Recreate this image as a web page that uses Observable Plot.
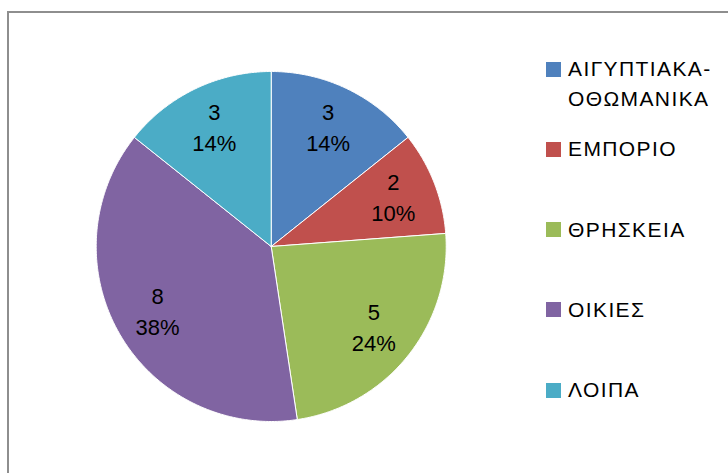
<!DOCTYPE html>
<html>
<head>
<meta charset="utf-8">
<script src="https://cdn.jsdelivr.net/npm/d3@7"></script>
<script src="https://cdn.jsdelivr.net/npm/@observablehq/plot@0.6"></script>
<style>
  html, body { margin: 0; padding: 0; background: #fff; }
  #wrap { position: relative; width: 728px; height: 473px; overflow: hidden; font-family: "Liberation Sans", Arial, sans-serif; }
  #frame { position: absolute; left: 7px; top: 11px; width: 800px; height: 600px; border-left: 2px solid #8e8e8e; border-top: 2px solid #8e8e8e; box-sizing: border-box; pointer-events: none; }
  #chart { position: absolute; left: 0; top: 0; }
  .leg { position: absolute; left: 546px; }
  .leg .sw { position: absolute; left: 0; top: 0; width: 15px; height: 15px; }
  .leg .tx { position: absolute; left: 22px; top: -7.5px; width: 175px; font-size: 21px; line-height: 30px; color: #000; letter-spacing: 1.4px; }
</style>
</head>
<body>
<div id="wrap">
  <div id="frame"></div>
  <div id="chart"></div>
</div>
<script>
const categories = ["ΑΙΓΥΠΤΙΑΚΑ-ΟΘΩΜΑΝΙΚΑ", "ΕΜΠΟΡΙΟ", "ΘΡΗΣΚΕΙΑ", "ΟΙΚΙΕΣ", "ΛΟΙΠΑ"];
const values = [3, 2, 5, 8, 3];
const colors = ["#4F81BD", "#C0504D", "#9BBB59", "#8064A2", "#4BACC6"];

const W = 728, H = 473;
const cx = 270.7, cy = 246, R = 175;

const total = d3.sum(values);
const arcs = d3.pie().sort(null)(values);

const polys = arcs.flatMap((p, i) => {
  const pts = [{k: categories[i], x: 0, y: 0}];
  const span = p.endAngle - p.startAngle;
  const n = Math.max(2, Math.ceil(span / (Math.PI / 360)));
  for (let j = 0; j <= n; j++) {
    const a = p.startAngle + span * j / n;
    pts.push({k: categories[i], x: Math.sin(a), y: Math.cos(a)});
  }
  pts.push({k: categories[i], x: 0, y: 0});
  return pts;
});

const labels = arcs.map((p, i) => {
  const m = (p.startAngle + p.endAngle) / 2;
  return {
    x: Math.sin(m) * 0.75,
    y: Math.cos(m) * 0.75,
    t: `${values[i]}\n${Math.round(values[i] / total * 100)}%`
  };
});

const plot = Plot.plot({
  width: W,
  height: H,
  margin: 0,
  style: {background: "transparent", fontFamily: "\"Liberation Sans\", Arial, sans-serif"},
  x: {domain: [-1, 1], range: [cx - R, cx + R], axis: null},
  y: {domain: [-1, 1], range: [cy + R, cy - R], axis: null},
  color: {domain: categories, range: colors},
  marks: [
    Plot.line(polys, {x: "x", y: "y", z: "k", fill: "k", stroke: "white", strokeWidth: 1, curve: "linear"}),
    Plot.text(labels, {x: "x", y: "y", text: "t", fontSize: 22, lineHeight: 1.42, dy: -3, fill: "#000"})
  ]
});
document.getElementById("chart").appendChild(plot);

const wrap = document.getElementById("wrap");
categories.forEach((c, i) => {
  const d = document.createElement("div");
  d.className = "leg";
  d.style.top = (61.5 + i * 80.3) + "px";
  const sw = document.createElement("div");
  sw.className = "sw";
  sw.style.background = colors[i];
  const tx = document.createElement("div");
  tx.className = "tx";
  tx.textContent = c;
  d.appendChild(sw);
  d.appendChild(tx);
  wrap.appendChild(d);
});
</script>
</body>
</html>
